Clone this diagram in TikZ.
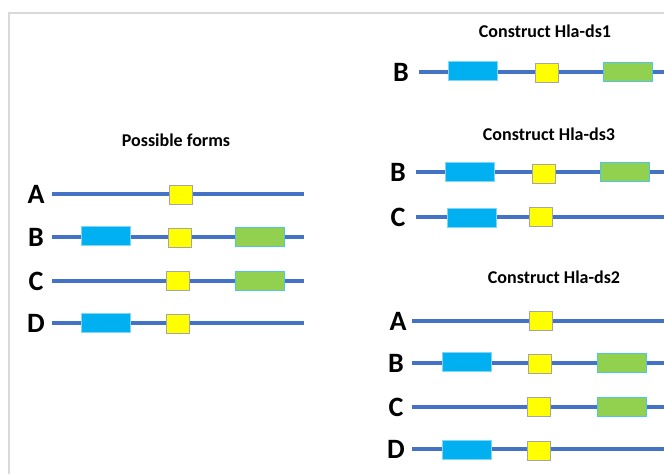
\documentclass[tikz,border=0pt]{standalone}
\usepackage{fontspec}
\setmainfont{Carlito}
\definecolor{strand}{HTML}{4472C4}
\definecolor{frameg}{HTML}{D9D9D9}
\definecolor{bluefill}{HTML}{00B0F0}
\definecolor{blueedge}{HTML}{7FD6F7}
\definecolor{yelfill}{HTML}{FFFF00}
\definecolor{yeledge}{HTML}{A5A5A5}
\definecolor{grnfill}{HTML}{92D050}
\definecolor{grnedge}{HTML}{4FC6E6}
\tikzset{
  dnaline/.style={strand, line width=4pt},
  seg/.style={inner sep=0pt, line width=0.9pt, minimum height=19pt},
  bluebox/.style={seg, fill=bluefill, draw=blueedge, minimum width=49pt},
  yelbox/.style={seg, fill=yelfill, draw=yeledge, minimum width=23pt},
  grnbox/.style={seg, fill=grnfill, draw=grnedge, minimum width=49pt},
  rowlabel/.style={font=\fontsize{28}{28}\selectfont\bfseries, inner sep=0pt},
  heading/.style={font=\fontsize{18}{18}\selectfont\bfseries, inner sep=0pt},
}
\begin{document}
\begin{tikzpicture}[x=1pt, y=-1pt]
\useasboundingbox (0,0) rectangle (664,474);
% light frame around the panel
\draw[frameg, line width=2pt] (9,474) -- (9,13) -- (664,13);

% ---------- Possible forms ----------
\node[heading] (pf) at (176,140) {Possible forms};

\node[rowlabel] (lA) at (36,194) {A};
\coordinate (lAs) at (52,194); \coordinate (lAe) at (304,194);
\draw[dnaline] (lAs) -- (lAe);
\node[yelbox] (lAy) at (180.5,194.5) {};

\node[rowlabel] (lB) at (36,237) {B};
\coordinate (lBs) at (52,237); \coordinate (lBe) at (304,237);
\draw[dnaline] (lBs) -- (lBe);
\node[bluebox] (lBb) at (105.5,235.5) {};
\node[yelbox] (lBy) at (179.5,237.5) {};
\node[grnbox] (lBg) at (260,236.5) {};

\node[rowlabel] (lC) at (36,281) {C};
\coordinate (lCs) at (52,281); \coordinate (lCe) at (304,281);
\draw[dnaline] (lCs) -- (lCe);
\node[yelbox] (lCy) at (177.5,280.5) {};
\node[grnbox] (lCg) at (260,280.5) {};

\node[rowlabel] (lD) at (36,323) {D};
\coordinate (lDs) at (52,323); \coordinate (lDe) at (304,323);
\draw[dnaline] (lDs) -- (lDe);
\node[bluebox] (lDb) at (105.5,323) {};
\node[yelbox] (lDy) at (177.5,323.5) {};

% ---------- Construct Hla-ds1 ----------
\node[heading] (h1) at (545,31) {Construct Hla-ds1};

\node[rowlabel] (aB) at (401,72) {B};
\coordinate (aBs) at (419,72); \coordinate (aBe) at (664,72);
\draw[dnaline] (aBs) -- (aBe);
\node[bluebox] (aBb) at (473,71) {};
\node[yelbox] (aBy) at (546.5,73) {};
\node[grnbox] (aBg) at (627.5,71.5) {};

% ---------- Construct Hla-ds3 ----------
\node[heading] (h3) at (549,134) {Construct Hla-ds3};

\node[rowlabel] (bB) at (398,172) {B};
\coordinate (bBs) at (416,172); \coordinate (bBe) at (664,172);
\draw[dnaline] (bBs) -- (bBe);
\node[bluebox] (bBb) at (470,171.5) {};
\node[yelbox] (bBy) at (543.5,173.5) {};
\node[grnbox] (bBg) at (624.5,171.5) {};

\node[rowlabel] (bC) at (398,217) {C};
\coordinate (bCs) at (416,217); \coordinate (bCe) at (664,217);
\draw[dnaline] (bCs) -- (bCe);
\node[bluebox] (bCb) at (471.5,217.5) {};
\node[yelbox] (bCy) at (541,216.5) {};

% ---------- Construct Hla-ds2 ----------
\node[heading] (h2) at (554,277) {Construct Hla-ds2};

\node[rowlabel] (cA) at (398,321) {A};
\coordinate (cAs) at (412,321); \coordinate (cAe) at (664,321);
\draw[dnaline] (cAs) -- (cAe);
\node[yelbox] (cAy) at (541,320.5) {};

\node[rowlabel] (cB) at (396,363) {B};
\coordinate (cBs) at (412,363); \coordinate (cBe) at (664,363);
\draw[dnaline] (cBs) -- (cBe);
\node[bluebox] (cBb) at (466.5,361.5) {};
\node[yelbox] (cBy) at (540,364) {};
\node[grnbox] (cBg) at (621.5,362.5) {};

\node[rowlabel] (cC) at (396,407) {C};
\coordinate (cCs) at (412,407); \coordinate (cCe) at (664,407);
\draw[dnaline] (cCs) -- (cCe);
\node[yelbox] (cCy) at (538.5,406.5) {};
\node[grnbox] (cCg) at (621.5,407) {};

\node[rowlabel] (cD) at (396,449) {D};
\coordinate (cDs) at (412,449); \coordinate (cDe) at (664,449);
\draw[dnaline] (cDs) -- (cDe);
\node[bluebox] (cDb) at (466.5,449.5) {};
\node[yelbox] (cDy) at (538.5,450.5) {};
\end{tikzpicture}
\end{document}
